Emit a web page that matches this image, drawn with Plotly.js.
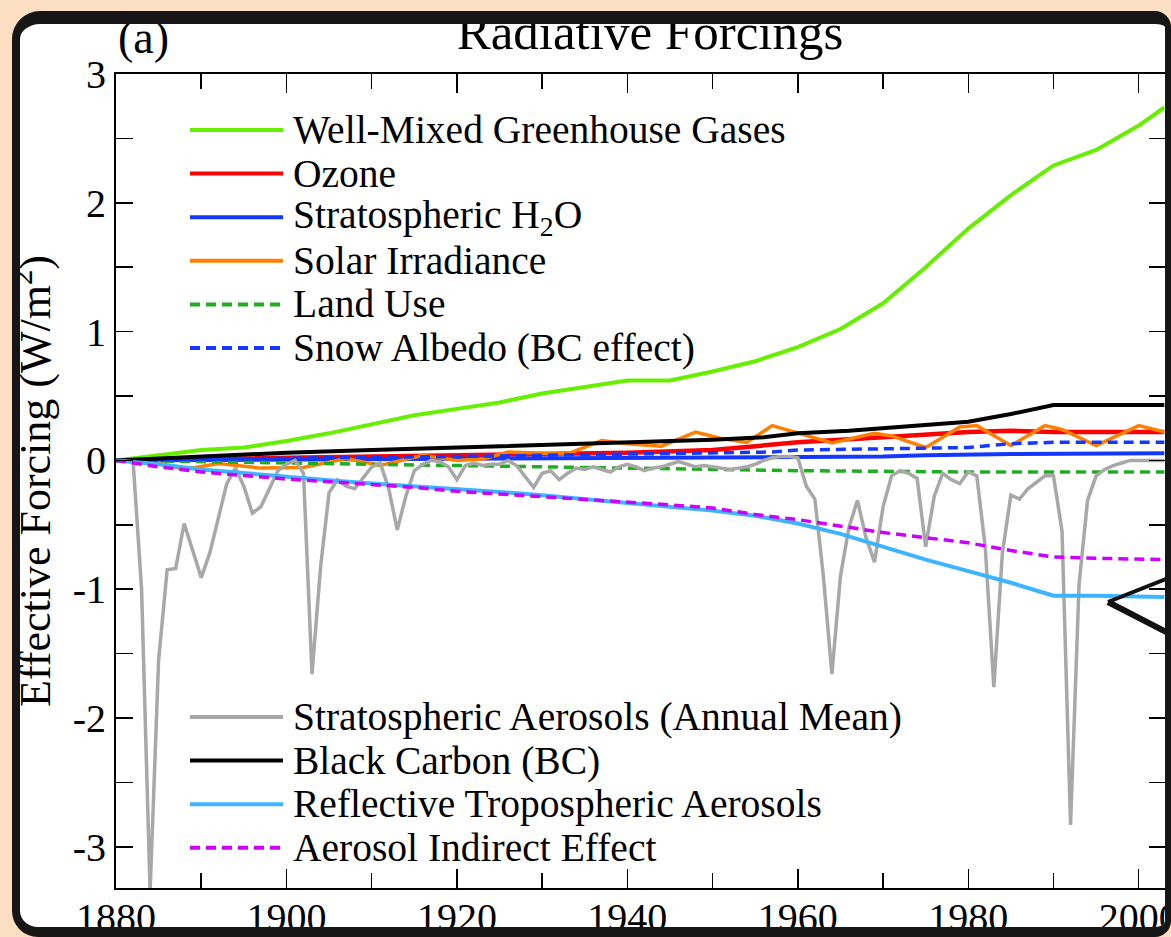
<!DOCTYPE html>
<html><head><meta charset="utf-8">
<script src="https://cdn.plot.ly/plotly-3.0.1.min.js"></script>
<style>
html,body{margin:0;padding:0;width:1171px;height:937px;overflow:hidden;background:#fcdfc2;}
#frame{position:absolute;left:12px;top:11px;width:1159px;height:926px;box-sizing:border-box;border-style:solid;border-color:#161616;border-width:13px 6px 10px 8px;border-radius:28px 16px 16px 26px;background:#fff;overflow:hidden;}
#chart{position:absolute;left:-20px;top:-24px;width:1171px;height:937px;}
</style></head><body>
<div id="frame"><div id="chart"></div></div>
<script>
// ---------- data ----------
const ghgYears   = [1880,1885,1890,1895,1900,1905,1910,1915,1920,1925,1930,1935,1940,1945,1950,1955,1960,1965,1970,1975,1980,1985,1990,1995,2000,2003];
const ghgValues  = [0.00,0.04,0.08,0.10,0.15,0.21,0.28,0.35,0.40,0.45,0.52,0.57,0.62,0.62,0.69,0.77,0.88,1.02,1.22,1.50,1.80,2.06,2.29,2.41,2.60,2.74];

const ozoneYears  = [1880,1890,1900,1910,1920,1930,1940,1950,1955,1960,1970,1980,1985,1990,1995,2003];
const ozoneValues = [0.00,0.01,0.02,0.03,0.04,0.05,0.06,0.08,0.11,0.14,0.18,0.22,0.23,0.22,0.22,0.22];

const h2oYears  = [1880,1900,1920,1940,1960,1970,1975,1985,2003];
const h2oValues = [0.000,0.005,0.010,0.015,0.022,0.030,0.040,0.050,0.055];

const solarYears  = [1880,1882,1885,1888,1892,1894,1897,1902,1905,1907,1911,1916,1920,1923,1926,1930,1933,1937,1940,1944,1948,1951,1954,1957,1960,1964,1969,1971,1975,1979,1981,1985,1989,1991,1995,2000,2003];
const solarValues = [0.00,0.01,-0.02,-0.07,-0.025,-0.04,-0.06,-0.055,-0.01,0.015,-0.04,0.04,0.00,0.01,0.065,0.06,0.05,0.155,0.13,0.11,0.22,0.17,0.14,0.27,0.21,0.135,0.21,0.19,0.10,0.26,0.27,0.115,0.27,0.24,0.115,0.27,0.22];

const landYears  = [1880,1890,1900,1910,1920,1930,1940,1950,1960,1970,1980,2003];
const landValues = [0.00,-0.01,-0.025,-0.035,-0.045,-0.055,-0.06,-0.07,-0.08,-0.085,-0.09,-0.09];

const snowYears  = [1880,1890,1900,1910,1920,1930,1940,1950,1957,1960,1970,1980,1985,1990,2003];
const snowValues = [0.00,0.01,0.02,0.025,0.03,0.04,0.045,0.055,0.065,0.08,0.09,0.10,0.13,0.14,0.14];

const stratYears = [1880,1881,1882,1883,1884,1885,1886,1887,1888,1889,
                    1890,1891,1892,1893,1894,1895,1896,1897,1898,1899,
                    1900,1901,1902,1903,1904,1905,1906,1907,1908,1909,
                    1910,1911,1912,1913,1914,1915,1916,1917,1918,1919,
                    1920,1921,1922,1923,1924,1925,1926,1927,1928,1929,
                    1930,1931,1932,1933,1934,1935,1936,1937,1938,1939,
                    1940,1941,1942,1943,1944,1945,1946,1947,1948,1949,
                    1950,1951,1952,1953,1954,1955,1956,1957,1958,1959,
                    1960,1961,1962,1963,1964,1965,1966,1967,1968,1969,
                    1970,1971,1972,1973,1974,1975,1976,1977,1978,1979,
                    1980,1981,1982,1983,1984,1985,1986,1987,1988,1989,
                    1990,1991,1992,1993,1994,1995,1996,1997,1998,1999,
                    2000,2001,2002,2003];
const stratValues = [0.00,0.00,0.00,-1.00,-3.35,-1.55,-0.85,-0.84,-0.49,-0.70,
                     -0.91,-0.72,-0.45,-0.18,-0.06,-0.20,-0.41,-0.36,-0.22,-0.08,
                     -0.03,0.00,-0.10,-1.66,-0.83,-0.25,-0.15,-0.20,-0.22,-0.14,
                     -0.05,-0.02,-0.22,-0.54,-0.28,-0.08,-0.03,0.00,-0.01,-0.05,
                     -0.15,-0.04,-0.02,-0.04,-0.03,-0.03,0.00,-0.04,-0.12,-0.21,
                     -0.10,-0.08,-0.15,-0.10,-0.06,-0.07,-0.05,-0.07,-0.09,-0.05,
                     -0.03,-0.05,-0.08,-0.06,-0.05,-0.03,-0.01,-0.03,-0.05,-0.04,
                     -0.05,-0.06,-0.07,-0.06,-0.05,-0.03,0.00,0.02,0.03,0.03,
                     0.02,-0.20,-0.30,-0.90,-1.66,-0.90,-0.52,-0.31,-0.60,-0.79,
                     -0.36,-0.12,-0.08,-0.10,-0.14,-0.67,-0.28,-0.10,-0.15,-0.18,
                     -0.09,-0.12,-0.68,-1.76,-0.72,-0.27,-0.30,-0.22,-0.17,-0.12,
                     -0.12,-0.55,-2.83,-0.96,-0.31,-0.12,-0.07,-0.04,-0.02,0.00,
                     0.00,0.00,0.00,0.00];

const bcYears  = [1880,1890,1900,1910,1920,1930,1940,1950,1956,1960,1966,1972,1980,1985,1990,2003];
const bcValues = [0.00,0.03,0.06,0.08,0.10,0.12,0.14,0.16,0.18,0.21,0.23,0.26,0.30,0.36,0.43,0.43];

const tropYears  = [1880,1885,1890,1895,1900,1905,1910,1915,1920,1925,1930,1935,1940,1945,1950,1955,1960,1965,1970,1975,1980,1985,1990,1995,2003];
const tropValues = [0.00,-0.03,-0.07,-0.10,-0.13,-0.155,-0.18,-0.20,-0.22,-0.245,-0.27,-0.30,-0.33,-0.36,-0.39,-0.43,-0.49,-0.57,-0.67,-0.77,-0.86,-0.95,-1.05,-1.05,-1.06];

const aieYears  = [1880,1885,1890,1895,1900,1905,1910,1915,1920,1925,1930,1935,1940,1945,1950,1955,1960,1965,1970,1975,1980,1985,1990,1995,2003];
const aieValues = [0.00,-0.05,-0.09,-0.12,-0.145,-0.165,-0.185,-0.21,-0.24,-0.26,-0.28,-0.30,-0.32,-0.345,-0.37,-0.42,-0.46,-0.51,-0.56,-0.60,-0.64,-0.70,-0.75,-0.76,-0.77];

const xTickVals = [1880,1900,1920,1940,1960,1980,2000];
const xTickText = ['1880','1900','1920','1940','1960','1980','2000'];
const yTickVals = [-3,-2,-1,0,1,2,3];
const yTickText = ['-3','-2','-1','0','1','2','3'];

const namesTop = ['Well-Mixed Greenhouse Gases','Ozone','Stratospheric H<sub>2</sub>O','Solar Irradiance','Land Use','Snow Albedo (BC effect)'];
const namesBottom = ['Stratospheric Aerosols (Annual Mean)','Black Carbon (BC)','Reflective Tropospheric Aerosols','Aerosol Indirect Effect'];

// ---------- styles ----------
const DASH = '10px,6px';
const series = [
  {x:ghgYears,   y:ghgValues,   name:namesTop[0],    color:'#66f000', width:4,   dash:'solid', group:0, row:0},
  {x:ozoneYears, y:ozoneValues, name:namesTop[1],    color:'#ff0000', width:4.5, dash:'solid', group:0, row:1},
  {x:h2oYears,   y:h2oValues,   name:namesTop[2],    color:'#1438ff', width:4,   dash:'solid', group:0, row:2},
  {x:solarYears, y:solarValues, name:namesTop[3],    color:'#ff8000', width:3.5, dash:'solid', group:0, row:3},
  {x:landYears,  y:landValues,  name:namesTop[4],    color:'#1fae1f', width:3.5, dash:DASH,    group:0, row:4},
  {x:snowYears,  y:snowValues,  name:namesTop[5],    color:'#1438ff', width:3.5, dash:DASH,    group:0, row:5},
  {x:stratYears, y:stratValues, name:namesBottom[0], color:'#a8a8a8', width:3.5, dash:'solid', group:1, row:0},
  {x:bcYears,    y:bcValues,    name:namesBottom[1], color:'#000000', width:4,   dash:'solid', group:1, row:1},
  {x:tropYears,  y:tropValues,  name:namesBottom[2], color:'#3cb4ff', width:4,   dash:'solid', group:1, row:2},
  {x:aieYears,   y:aieValues,   name:namesBottom[3], color:'#cc00ff', width:3.5, dash:DASH,    group:1, row:3}
];

const traces = series.map(s => ({
  type:'scatter', mode:'lines', x:s.x, y:s.y, name:s.name.replace(/<\/?sub>/g,''),
  line:{color:s.color, width:s.width, dash:s.dash}, showlegend:false, hoverinfo:'skip'
}));

// plot-area pixel geometry -> paper coordinates (for the hand-made legend and decorations)
const PL = 116, PR = 1166, PT = 74, PB = 888;
const px = v => (v - PL) / (PR - PL);
const py = v => (PB - v) / (PB - PT);

const legendStartY = [130, 717];
const legendStep = 43.6;
const shapes = [];
const annotations = [];
series.forEach(s => {
  const yy = legendStartY[s.group] + s.row * legendStep;
  shapes.push({type:'line', xref:'paper', yref:'paper', x0:px(190), x1:px(283), y0:py(yy), y1:py(yy),
               line:{color:s.color, width:4, dash:s.dash}, layer:'above'});
  annotations.push({xref:'paper', yref:'paper', x:px(291), y:py(yy), xanchor:'left', yanchor:'middle',
                    text:s.name, showarrow:false, font:{size:39.5}});
});
// "(a)" panel label
annotations.push({xref:'paper', yref:'paper', x:px(116), y:py(38), xanchor:'left', yanchor:'middle',
                  text:'(a)', showarrow:false, font:{size:46}});
// black wedge artefact at the right edge of the photo
shapes.push({type:'line', xref:'paper', yref:'paper', x0:px(1108), y0:py(602), x1:px(1176), y1:py(575), line:{color:'#111', width:4}, layer:'above'});
shapes.push({type:'line', xref:'paper', yref:'paper', x0:px(1108), y0:py(602), x1:px(1176), y1:py(637), line:{color:'#111', width:6}, layer:'above'});

const axisCommon = {
  showline:true, linewidth:2, linecolor:'#000', mirror:'allticks', showgrid:false, zeroline:false,
  ticks:'inside', tickwidth:1.5, tickcolor:'#000', tickfont:{size:40}
};

const layout = {
  width:1171, height:937,
  margin:{l:PL, r:1171-PR, t:PT, b:937-PB},
  paper_bgcolor:'rgba(0,0,0,0)', plot_bgcolor:'rgba(0,0,0,0)',
  font:{family:'"Liberation Serif","Times New Roman",serif', color:'#000', size:38},
  showlegend:false,
  title:{text:'Radiative Forcings', font:{size:51}, xref:'container', yref:'container',
         x:650/1171, xanchor:'center', y:1-31/937, yanchor:'middle'},
  xaxis:Object.assign({}, axisCommon, {
    range:[1880,2003.2], tickmode:'array', tickvals:xTickVals, ticktext:xTickText, ticklen:19,
    ticklabeloverflow:'allow', ticklabelstandoff:-7,
    minor:{tickmode:'linear', tick0:1880, dtick:10, ticks:'inside', ticklen:15, tickwidth:1.5, tickcolor:'#000'}
  }),
  yaxis:Object.assign({}, axisCommon, {
    range:[-3.32,3], tickmode:'array', tickvals:yTickVals, ticktext:yTickText, ticklen:17,
    minor:{tickmode:'linear', tick0:0, dtick:0.5, ticks:'inside', ticklen:17, tickwidth:1.5, tickcolor:'#000'},
    title:{text:'Effective Forcing (W/m<sup>2</sup>)', font:{size:44}, standoff:8}
  }),
  shapes:shapes,
  annotations:annotations
};

Plotly.newPlot('chart', traces, layout, {displayModeBar:false, staticPlot:true});
</script></body></html>
